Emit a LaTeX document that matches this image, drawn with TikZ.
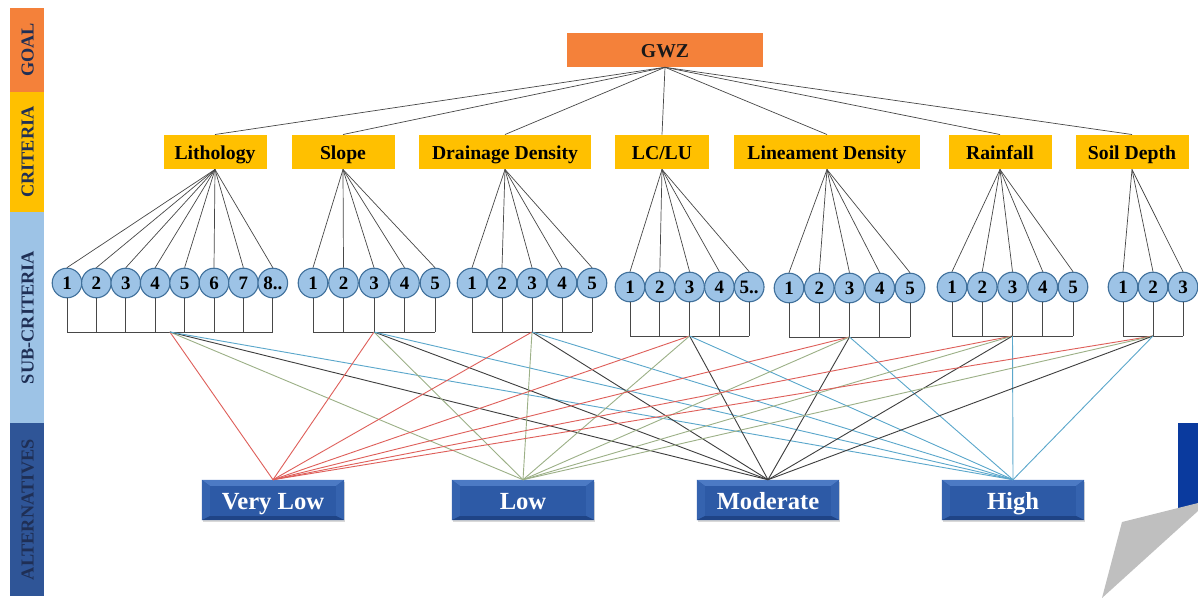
\documentclass[tikz,border=0pt]{standalone}
\usepackage{fontspec}
\setmainfont{Liberation Serif}
\usepackage{tikz}
\usetikzlibrary{shadows}
\usepackage{xcolor}

\definecolor{goalorange}{HTML}{F4813A}
\definecolor{crityellow}{HTML}{FFC000}
\definecolor{subblue}{HTML}{9DC3E6}
\definecolor{altband}{HTML}{2F5597}
\definecolor{circline}{HTML}{41719C}
\definecolor{altblue}{HTML}{2D5AA6}
\definecolor{altlight}{HTML}{4C7AC4}
\definecolor{altmid}{HTML}{3563AF}
\definecolor{altdark}{HTML}{1F4486}
\definecolor{lnred}{HTML}{DE5F5A}
\definecolor{lngreen}{HTML}{9CB087}
\definecolor{lngray}{HTML}{3F3F3F}
\definecolor{lnblue}{HTML}{5BA7CB}
\definecolor{bandtext}{HTML}{1F2F55}
\definecolor{slideblue}{HTML}{0A3A9E}

\begin{document}
\begin{tikzpicture}[x=0.025cm, y=-0.025cm,
  band/.style={rotate=90, minimum height=0.85cm, inner sep=0pt, text=bandtext,
    text height=9.5pt, text depth=0pt, font=\fontsize{13}{13}\selectfont\bfseries},
  goalbox/.style={fill=goalorange, minimum width=4.9cm, minimum height=0.85cm,
    inner sep=0pt, text=black!90, text height=11pt, text depth=0pt,
    font=\fontsize{14}{14}\selectfont\bfseries},
  crit/.style={fill=crityellow, minimum height=0.86cm, inner sep=0pt,
    text height=11pt, text depth=0pt, font=\fontsize{14}{14}\selectfont\bfseries},
  sub/.style={circle, draw=circline, fill=subblue, line width=0.8pt,
    minimum size=0.74cm, inner sep=0pt, text height=9.5pt, text depth=0pt,
    font=\fontsize{13.5}{14}\selectfont\bfseries},
  alt/.style={minimum width=3.55cm, minimum height=1cm, inner sep=0pt,
    fill=altblue, text=white, text height=14pt, text depth=0pt,
    font=\fontsize{17.5}{18}\selectfont\bfseries,
    drop shadow={opacity=0.3, shadow xshift=0.6pt, shadow yshift=-1.6pt},
    path picture={
      \fill[altlight] (path picture bounding box.north west) -- (path picture bounding box.north east)
        -- ([shift={(-8,6)}]path picture bounding box.north east) -- ([shift={(8,6)}]path picture bounding box.north west) -- cycle;
      \fill[altmid] (path picture bounding box.north west) -- ([shift={(8,6)}]path picture bounding box.north west)
        -- ([shift={(8,-4)}]path picture bounding box.south west) -- (path picture bounding box.south west) -- cycle;
      \fill[altmid] (path picture bounding box.north east) -- ([shift={(-8,6)}]path picture bounding box.north east)
        -- ([shift={(-8,-4)}]path picture bounding box.south east) -- (path picture bounding box.south east) -- cycle;
      \fill[altdark] (path picture bounding box.south west) -- ([shift={(8,-4)}]path picture bounding box.south west)
        -- ([shift={(-8,-4)}]path picture bounding box.south east) -- (path picture bounding box.south east) -- cycle;
    }},
  tree/.style={draw=black!72, line width=0.5pt},
  link/.style={line width=0.65pt}
]
  \useasboundingbox (0,0) rectangle (1198,598);

  % level bands on the left
  \node[band, fill=goalorange, minimum width=2.1cm] (bgoal) at (27,50) {GOAL};
  \node[band, fill=crityellow, minimum width=3cm] (bcrit) at (27,152) {CRITERIA};
  \node[band, fill=subblue, minimum width=5.275cm] (bsub) at (27,317.5) {SUB-CRITERIA};
  \node[band, fill=altband, minimum width=4.325cm] (balt) at (27,509.5) {ALTERNATIVES};

  % goal and criteria
  \node[goalbox] (gwz) at (665,50) {GWZ};
  \foreach \c/\x/\w/\txt in {lith/215/103/Lithology, slope/343/103/Slope,
      drain/505/172/Drainage Density, lclu/662/94/{LC/LU},
      linea/827/186/Lineament Density, rain/1000/103/Rainfall, soil/1132/113/Soil Depth} {
    \node[crit, minimum width=\w*0.025cm] (\c) at (\x,152) {\txt};
    \draw[tree] (gwz.south) -- (\c.north);
  }

  % sub-criteria with their brackets
  \foreach \c/\x/\dx/\cnt/\y/\last in {lith/67/29.4/8/283/{8..}, slope/313/30.5/5/283/5,
      drain/472/30/5/283/5, lclu/630/29.8/5/287/{5..}, linea/789/30.25/5/288/5,
      rain/952/30.25/5/287/5, soil/1123/30/3/287/3} {
    \foreach \k in {1,...,\cnt} {
      \pgfmathsetmacro\xk{\x+(\k-1)*\dx}
      \ifnum\k=\cnt \def\lbl{\last}\else\def\lbl{\k}\fi
      \node[sub] (\c-\k) at (\xk,\y) {\lbl};
      \draw[tree] (\c.south) -- (\c-\k.north);
      \draw[tree] (\c-\k.south) -- (\xk,\y+49);
    }
    \pgfmathsetmacro\xe{\x+(\cnt-1)*\dx}
    \draw[tree] (\x,\y+49) -- (\xe,\y+49);
    \coordinate (\c-hub) at ({(\x+\xe)/2},\y+49);
  }

  % alternatives
  \foreach \a/\x/\txt in {vlow/273/Very Low, low/523/Low, mod/768/Moderate, high/1013/High}
    \node[alt] (\a) at (\x,500) {\txt};

  \foreach \c in {lith,slope,drain,lclu,linea,rain,soil} {
    \draw[link, lnred] (\c-hub) -- (vlow.north);
    \draw[link, lngreen] (\c-hub) -- (low.north);
    \draw[link, lngray] (\c-hub) -- (mod.north);
    \draw[link, lnblue] (\c-hub) -- (high.north);
  }

  % slide remnants, bottom right
  \fill[slideblue] (1178,423) -- (1198,423) -- (1198,506) -- (1178,525) -- cycle;
  \fill[black!25] (1122,522) -- (1198,503) -- (1198,511) -- (1102,598) -- cycle;
\end{tikzpicture}
\end{document}
